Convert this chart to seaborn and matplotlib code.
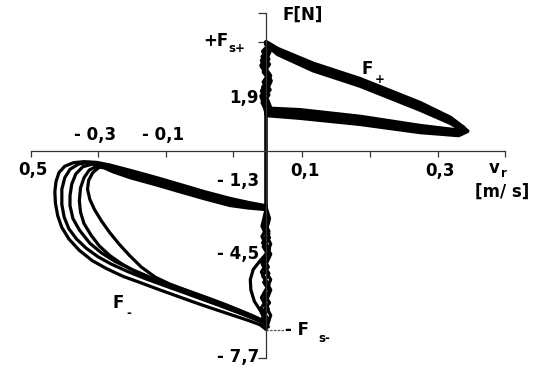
import numpy as np
import pandas as pd
import seaborn as sns
import matplotlib.pyplot as plt

# ---- measured friction force F [N] versus sliding velocity v_r [m/s] ----
# positive slip loop (F+): stick at v=0, upper branch out to the tip, lower branch back
pos_cycles = [
    [(0.000, 1.50), (0.005, 1.80), (-0.005, 2.10), (0.006, 2.40), (-0.004, 2.70),
     (0.005, 3.00), (-0.006, 3.30), (0.004, 3.60), (-0.005, 3.90), (0.003, 4.10), (0.000, 4.27),
     (0.020, 4.00), (0.081, 3.42), (0.161, 2.82), (0.264, 1.88), (0.316, 1.30), (0.340, 0.88),
     (0.326, 0.66), (0.264, 0.80), (0.161, 1.12), (0.058, 1.36), (0.003, 1.44)],
    [(0.000, 1.62), (-0.006, 1.90), (0.004, 2.20), (-0.005, 2.50), (0.006, 2.80),
     (-0.004, 3.10), (0.005, 3.40), (-0.006, 3.70), (0.004, 3.95), (0.002, 4.15),
     (0.020, 3.80), (0.081, 3.16), (0.161, 2.56), (0.264, 1.62), (0.316, 1.10), (0.335, 0.84),
     (0.322, 0.82), (0.264, 0.98), (0.161, 1.34), (0.058, 1.60), (0.003, 1.66)],
    [(0.000, 1.45), (0.007, 1.70), (0.002, 2.00), (-0.007, 2.35), (0.001, 2.65),
     (0.007, 2.95), (-0.002, 3.25), (-0.007, 3.55), (0.003, 3.85), (0.006, 4.05), (0.000, 4.22),
     (0.020, 3.90), (0.081, 3.30), (0.161, 2.70), (0.264, 1.76), (0.316, 1.18), (0.345, 0.78),
     (0.330, 0.62), (0.264, 0.74), (0.161, 1.06), (0.058, 1.30), (0.003, 1.40)],
    [(0.000, 1.55), (-0.003, 1.85), (-0.008, 2.15), (0.002, 2.45), (0.008, 2.75),
     (0.000, 3.05), (-0.008, 3.35), (0.001, 3.65), (0.007, 3.95), (0.000, 4.20),
     (0.020, 3.86), (0.081, 3.24), (0.161, 2.64), (0.264, 1.70), (0.316, 1.16), (0.338, 0.92),
     (0.325, 0.76), (0.264, 0.90), (0.161, 1.26), (0.058, 1.50), (0.003, 1.56)],
]

# negative slip loop (F-): upper branch to the left, turn-around, lower branch, stick at v=0
neg_cycles = [
    [(0.000, -2.15), (-0.030, -2.02), (-0.062, -1.86), (-0.105, -1.60), (-0.148, -1.31),
     (-0.190, -1.03), (-0.233, -0.76), (-0.268, -0.55), (-0.290, -0.45), (-0.312, -0.42),
     (-0.330, -0.46), (-0.345, -0.60), (-0.355, -0.85), (-0.360, -1.20), (-0.362, -1.60),
     (-0.361, -2.05), (-0.357, -2.55), (-0.350, -3.00), (-0.338, -3.45), (-0.320, -3.90),
     (-0.298, -4.30), (-0.273, -4.62), (-0.245, -4.92), (-0.216, -5.16), (-0.182, -5.45),
     (-0.148, -5.73), (-0.115, -6.00), (-0.084, -6.24), (-0.055, -6.46), (-0.030, -6.65),
     (-0.010, -6.82), (0.000, -7.00),
     (0.005, -6.65), (-0.005, -6.30), (0.006, -5.95), (-0.004, -5.60), (0.005, -5.25),
     (-0.006, -4.90), (0.004, -4.55), (-0.005, -4.20), (0.006, -3.85), (-0.004, -3.50),
     (0.005, -3.15), (-0.003, -2.80), (0.000, -2.30)],
    [(0.000, -2.20), (-0.030, -2.10), (-0.062, -1.96), (-0.105, -1.70), (-0.148, -1.41),
     (-0.190, -1.13), (-0.233, -0.86), (-0.268, -0.63), (-0.285, -0.50), (-0.305, -0.45),
     (-0.322, -0.52), (-0.336, -0.72), (-0.345, -1.05), (-0.350, -1.50), (-0.350, -2.10),
     (-0.346, -2.60), (-0.338, -3.05), (-0.325, -3.45), (-0.308, -3.82), (-0.288, -4.15),
     (-0.266, -4.43), (-0.238, -4.72), (-0.208, -5.00), (-0.172, -5.30), (-0.139, -5.57),
     (-0.108, -5.83), (-0.079, -6.07), (-0.052, -6.30), (-0.027, -6.52), (-0.008, -6.70),
     (0.004, -6.90),
     (-0.006, -6.55), (0.004, -6.20), (-0.005, -5.85), (0.006, -5.50), (-0.004, -5.15),
     (0.005, -4.80), (-0.006, -4.45), (0.004, -4.10), (-0.005, -3.75), (0.006, -3.40),
     (-0.004, -3.05), (0.003, -2.70), (0.000, -2.25)],
    [(0.000, -2.25), (-0.030, -2.18), (-0.062, -2.06), (-0.105, -1.80), (-0.148, -1.51),
     (-0.190, -1.23), (-0.233, -0.96), (-0.262, -0.72), (-0.280, -0.56), (-0.298, -0.52),
     (-0.314, -0.62), (-0.326, -0.90), (-0.333, -1.30), (-0.336, -1.75), (-0.336, -2.15),
     (-0.331, -2.65), (-0.320, -3.10), (-0.302, -3.62), (-0.282, -4.00), (-0.259, -4.33),
     (-0.230, -4.65), (-0.199, -4.95), (-0.165, -5.25), (-0.130, -5.52), (-0.098, -5.78),
     (-0.070, -6.02), (-0.045, -6.25), (-0.024, -6.45), (-0.008, -6.62), (0.000, -6.72),
     (-0.010, -6.25), (-0.020, -5.90), (-0.026, -5.45), (-0.027, -5.05), (-0.022, -4.65),
     (-0.010, -4.30), (0.004, -3.95), (-0.006, -3.60), (0.005, -3.25), (-0.004, -2.90),
     (0.000, -2.30)],
    [(0.000, -2.30), (-0.030, -2.24), (-0.062, -2.14), (-0.105, -1.88), (-0.148, -1.60),
     (-0.190, -1.32), (-0.233, -1.05), (-0.262, -0.82), (-0.278, -0.66), (-0.292, -0.62),
     (-0.303, -0.75), (-0.312, -1.05), (-0.318, -1.45), (-0.320, -1.95), (-0.318, -2.40),
     (-0.312, -2.85), (-0.300, -3.30), (-0.286, -3.72), (-0.268, -4.10), (-0.248, -4.42),
     (-0.225, -4.72), (-0.195, -5.03), (-0.165, -5.30), (-0.135, -5.56), (-0.105, -5.82),
     (-0.078, -6.06), (-0.053, -6.28), (-0.030, -6.48), (-0.012, -6.66), (0.002, -6.82),
     (0.008, -6.45), (0.000, -6.10), (-0.008, -5.75), (0.001, -5.40), (0.008, -5.05),
     (-0.001, -4.70), (-0.008, -4.35), (0.002, -4.00), (0.008, -3.65), (0.000, -3.30),
     (-0.007, -2.95), (0.000, -2.30)],
    [(0.000, -2.18), (-0.030, -2.06), (-0.062, -1.92), (-0.105, -1.65), (-0.148, -1.36),
     (-0.190, -1.08), (-0.233, -0.82), (-0.258, -0.64), (-0.272, -0.58), (-0.286, -0.64),
     (-0.297, -0.85), (-0.304, -1.15), (-0.306, -1.50), (-0.302, -1.90), (-0.294, -2.30),
     (-0.282, -2.75), (-0.268, -3.20), (-0.252, -3.65), (-0.234, -4.10), (-0.214, -4.55),
     (-0.190, -4.95), (-0.165, -5.22), (-0.135, -5.48), (-0.105, -5.74), (-0.078, -5.98),
     (-0.053, -6.22), (-0.030, -6.44), (-0.012, -6.64), (0.000, -6.85),
     (-0.003, -6.50), (-0.008, -6.15), (0.002, -5.80), (0.008, -5.45), (0.000, -5.10),
     (-0.008, -4.75), (0.001, -4.40), (0.008, -4.05), (0.000, -3.70), (-0.007, -3.35),
     (0.002, -3.00), (0.006, -2.65), (0.000, -2.20)],
]

# transition along v = 0 between the two loops
link_v = [0.0, 0.0]
link_F = [1.50, -2.20]

# axis ticks and their labels
xtick_pos = [-0.403, -0.288, -0.172, -0.057, 0.062, 0.178, 0.295, 0.410]
xtick_lab = ["0,5", "- 0,3", "- 0,1", "", "0,1", "", "0,3", ""]
ytick_pos = [5.41, 4.27, -8.12]
ylab_pos = [2.08, -1.18, -4.04, -8.08]
ylab_txt = ["1,9", "- 1,3", "- 4,5", "- 7,7"]


def frame(cycles, tag):
    rows = []
    for i, pts in enumerate(cycles):
        rows += [dict(v=a, F=b, cycle=f"{tag}{i}") for a, b in pts]
    return pd.DataFrame(rows)


pos_df = frame(pos_cycles, "p")
neg_df = frame(neg_cycles, "n")
link_df = pd.DataFrame(dict(v=link_v, F=link_F, cycle="link"))

sns.set_theme(style="white")
plt.rcParams["font.family"] = ["DejaVu Sans"]

fig = plt.figure(figsize=(5.42, 3.72), dpi=100)
ax = fig.add_axes([0, 0, 1, 1])

line_kw = dict(x="v", y="F", units="cycle", estimator=None, sort=False, color="black",
               solid_joinstyle="round", solid_capstyle="round", legend=False, ax=ax)
sns.lineplot(data=pos_df, lw=3.1, **line_kw)
sns.lineplot(data=neg_df, lw=2.3, **line_kw)
sns.lineplot(data=link_df, lw=2.6, **line_kw)

ax.set_xlim(-0.456, 0.473)
ax.set_ylim(-8.67, 5.92)
ax.set_xlabel("")
ax.set_ylabel("")

# axes crossing at the origin
for s in ["top", "right"]:
    ax.spines[s].set_visible(False)
ax.spines["left"].set_position(("data", 0))
ax.spines["bottom"].set_position(("data", 0))
ax.spines["left"].set_bounds(-8.12, 5.41)
ax.spines["bottom"].set_bounds(-0.403, 0.410)
for s in ["left", "bottom"]:
    ax.spines[s].set_color("#333333")
    ax.spines[s].set_linewidth(0.9)
ax.set_xticks(xtick_pos)
ax.set_xticklabels([])
ax.set_yticks(ytick_pos)
ax.set_yticklabels([])
ax.tick_params(axis="x", direction="out", length=4, width=0.9, color="#333333", bottom=True)
ax.tick_params(axis="y", direction="out", length=6, width=0.9, color="#333333", left=True)
ax.plot([0.0, 0.032], [-7.02, -7.02], color="#555555", lw=0.9, ls=(0, (2, 1)))

tk = dict(fontsize=12, fontweight="bold", color="black")
sub = dict(fontsize=8.5, fontweight="bold", color="black")

# x tick labels: negatives above the axis, the others below
for p, t in zip(xtick_pos, xtick_lab):
    if not t:
        continue
    if t.startswith("-"):
        ax.text(p - 0.005, 0.63, t, ha="center", va="center", **tk)
    elif t == "0,5":
        ax.text(p + 0.004, -0.75, t, ha="center", va="center", **tk)
    else:
        ax.text(p + 0.004, -0.8, t, ha="center", va="center", **tk)

for p, t in zip(ylab_pos, ylab_txt):
    ax.text(-0.012, p, t, ha="right", va="center", **tk)

# axis names and loop labels
ax.text(0.029, 5.33, "F[N]", ha="left", va="center", **tk)
ax.text(0.381, -0.66, "v", ha="left", va="center", **tk)
ax.text(0.402, -0.90, "r", ha="left", va="center", **sub)
ax.text(0.405, -1.62, "[m/ s]", ha="center", va="center", **tk)
ax.text(-0.064, 4.33, "+F", ha="right", va="center", **tk)
ax.text(-0.064, 4.02, "s+", ha="left", va="center", **sub)
ax.text(0.033, -7.02, "- F", ha="left", va="center", **tk)
ax.text(0.090, -7.36, "s-", ha="left", va="center", **sub)
ax.text(0.164, 3.20, "F", ha="left", va="center", **tk)
ax.text(0.186, 2.80, "+", ha="left", va="center", **sub)
ax.text(-0.263, -5.96, "F", ha="left", va="center", **tk)
ax.text(-0.240, -6.38, "-", ha="left", va="center", **sub)

fig.savefig("out.png", dpi=100, facecolor="white")
